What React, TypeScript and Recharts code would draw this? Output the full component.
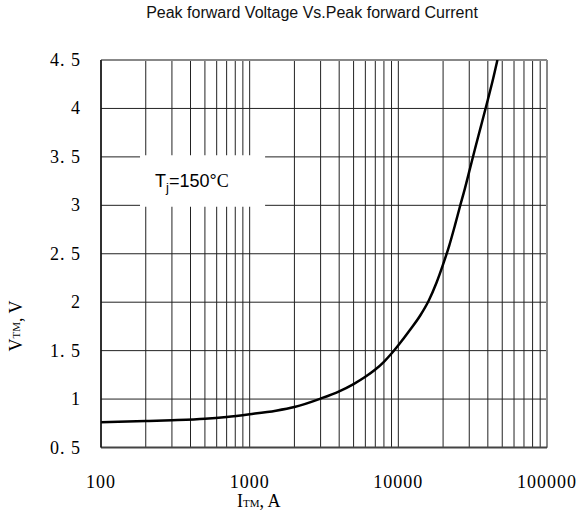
import React from 'react';
import {
  LineChart,
  Line,
  XAxis,
  YAxis,
  CartesianGrid,
  ReferenceArea,
  ReferenceLine,
} from 'recharts';

// peak forward current (A) and the matching peak forward voltage (V)
const currentA = [
  100, 200, 300, 500, 700, 1000, 1500, 2000, 3000, 4000, 5000, 6000, 7000, 8000, 9000,
  10000, 12000, 14000, 16000, 18000, 20000, 22000, 24000, 26000, 28000, 30000, 33000,
  36000, 40000, 43000, 46400,
];
const voltageV = [
  0.76, 0.773, 0.781, 0.796, 0.815, 0.843, 0.88, 0.918, 1.005, 1.08, 1.155, 1.23, 1.305,
  1.385, 1.47, 1.555, 1.715, 1.86, 2.015, 2.195, 2.39, 2.585, 2.79, 2.99, 3.17, 3.35, 3.6,
  3.82, 4.09, 4.28, 4.5,
];

const xTicks = [
  100, 200, 300, 400, 500, 600, 700, 800, 900,
  1000, 2000, 3000, 4000, 5000, 6000, 7000, 8000, 9000,
  10000, 20000, 30000, 40000, 50000, 60000, 70000, 80000, 90000,
  100000,
];
const decadeLabels = [100, 1000, 10000, 100000];
const yTicks = [0.5, 1, 1.5, 2, 2.5, 3, 3.5, 4, 4.5];

const data = currentA.map((c, i) => ({ current: c, voltage: voltageV[i] }));

const serif = '"Liberation Serif", "DejaVu Serif", serif';
const sans = '"Liberation Sans", Arial, sans-serif';

const formatY = (v: number) => (Number.isInteger(v) ? String(v) : v.toFixed(1).replace('.', '. '));

const XTick = (props: any) => {
  const { x, y, payload } = props;
  if (!decadeLabels.includes(payload.value)) return null;
  return (
    <text
      x={x}
      y={y + 38}
      textAnchor="middle"
      fontFamily={serif}
      fontSize={18}
      letterSpacing={1}
      fill="#000"
    >
      {String(payload.value)}
    </text>
  );
};

const YTick = (props: any) => {
  const { x, y, payload } = props;
  return (
    <text
      x={x - 18}
      y={y + 6}
      textAnchor="end"
      fontFamily={serif}
      fontSize={18}
      letterSpacing={1}
      fill="#000"
    >
      {formatY(payload.value)}
    </text>
  );
};

const TjLabel = (props: any) => {
  const { x, y, height } = props.viewBox;
  return (
    <text x={x + 15} y={y + height / 2 + 6} fontFamily={sans} fontSize={18} fill="#000">
      <tspan>T</tspan>
      <tspan dy={5} fontSize={13}>j</tspan>
      <tspan dy={-5}>=150°</tspan>
      <tspan fontFamily={serif}>C</tspan>
    </text>
  );
};

const XLabel = (props: any) => {
  const { x, y } = props.viewBox;
  return (
    <text x={x + 136} y={y + 59} fontFamily={serif} fontSize={18} fill="#000">
      <tspan>I</tspan>
      <tspan fontSize={11}>TM</tspan>
      <tspan>, A</tspan>
    </text>
  );
};

const YLabel = () => {
  const cx = 16;
  const cy = 326;
  return (
    <text
      x={cx}
      y={cy}
      transform={`rotate(-90, ${cx}, ${cy})`}
      textAnchor="middle"
      dominantBaseline="central"
      fontFamily={serif}
      fontSize={18}
      fill="#000"
    >
      <tspan>V</tspan>
      <tspan fontSize={11}>TM</tspan>
      <tspan>, V</tspan>
    </text>
  );
};

export default function App() {
  return (
    <div style={{ position: 'absolute', top: 0, left: 0, width: 581, height: 521, background: '#fff' }}>
      <div
        style={{
          position: 'absolute',
          top: 4,
          left: 0,
          width: 624,
          textAlign: 'center',
          fontFamily: sans,
          fontSize: 16,
          color: '#111',
        }}
      >
        Peak forward Voltage Vs.Peak forward Current
      </div>
      <LineChart
        width={581}
        height={521}
        data={data}
        margin={{ top: 60, right: 34, bottom: 13.5, left: 0 }}
      >
        <CartesianGrid stroke="#222" strokeWidth={1} />
        <XAxis
          dataKey="current"
          type="number"
          scale="log"
          domain={[100, 100000]}
          ticks={xTicks}
          interval={0}
          tickLine={false}
          tickSize={0}
          height={60}
          allowDataOverflow
          axisLine={{ stroke: '#444', strokeWidth: 2 }}
          tick={<XTick />}
          label={<XLabel />}
        />
        <YAxis
          type="number"
          domain={[0.5, 4.5]}
          ticks={yTicks}
          interval={0}
          tickLine={false}
          tickSize={0}
          width={101}
          allowDataOverflow
          axisLine={{ stroke: '#111', strokeWidth: 1.5 }}
          tick={<YTick />}
          label={<YLabel />}
        />
        <ReferenceLine x={100000} stroke="#888" strokeWidth={2} />
        <ReferenceLine y={4.5} stroke="#888" strokeWidth={2} />
        <ReferenceArea
          x1={183}
          x2={1270}
          y1={2.985}
          y2={3.518}
          fill="#fff"
          fillOpacity={1}
          stroke="none"
          label={<TjLabel />}
        />
        <Line
          type="monotone"
          dataKey="voltage"
          stroke="#000"
          strokeWidth={2.5}
          dot={false}
          isAnimationActive={false}
        />
      </LineChart>
    </div>
  );
}
